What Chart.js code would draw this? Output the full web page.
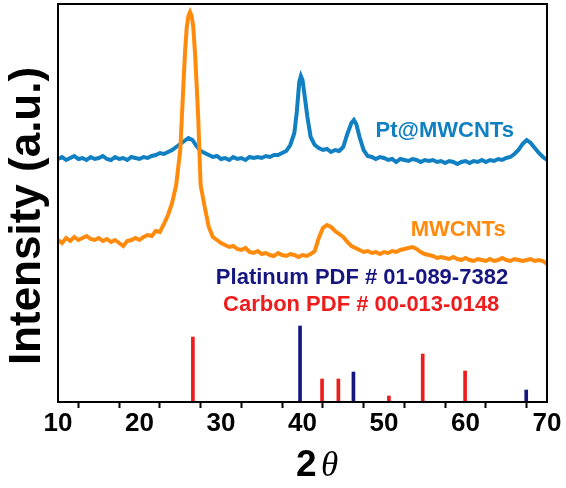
<!DOCTYPE html>
<html>
<head>
<meta charset="utf-8">
<script src="https://cdn.jsdelivr.net/npm/chart.js@4.4.1/dist/chart.umd.min.js"></script>
<style>
  html, body { margin: 0; padding: 0; background: #fff; }
  #wrap { width: 566px; height: 488px; }
</style>
</head>
<body>
<div id="wrap"><canvas id="xrdChart" width="566" height="488"></canvas></div>
<script>
// 2theta positions and intensities (a.u.)
const ptX = [10,10.5,11,11.5,12,12.5,13,13.5,14,14.5,15,15.5,16,16.5,17,17.5,18,18.5,19,19.5,20,20.5,21,21.5,22,22.5,23,23.5,24,24.5,25,25.5,26,26.5,27,27.5,28,28.5,29,29.5,30,30.5,31,31.5,32,32.5,33,33.5,34,34.5,35,35.5,36,36.5,37,37.5,38,38.5,39,39.3,39.6,39.8,40,40.3,40.6,41,41.5,42,42.5,43,43.5,44,44.5,45,45.5,46,46.3,46.6,47,47.5,48,48.5,49,49.5,50,50.5,51,51.5,52,52.5,53,53.5,54,54.5,55,55.5,56,56.5,57,57.5,58,58.5,59,59.5,60,60.5,61,61.5,62,62.5,63,63.5,64,64.5,65,65.5,66,66.5,67,67.5,68,68.5,69,69.5,70];
const ptY = [243,245,242,244,246,243,244,242,245,243,244,246,243,242,245,243,244,242,245,244,243,245,244,246,247,249,248,250,252,255,258,261,264,262,256,251,249,247,245,246,243,244,242,245,243,244,242,245,244,245,244,246,245,247,247,249,251,257,269,290,320,326,322,304,285,265,257,254,252,253,250,252,251,255,268,279,282,278,265,252,246,245,243,245,244,242,243,240,243,242,241,243,242,240,242,241,242,240,241,239,241,240,238,240,241,239,241,240,242,240,242,241,243,242,244,245,248,252,258,262,259,254,249,245,242];

const cntX = [10,10.5,11,11.5,12,12.5,13,13.5,14,14.5,15,15.5,16,16.5,17,17.5,18,18.5,19,19.5,20,20.5,21,21.5,22,22.5,23,23.5,24,24.5,25,25.2,25.4,25.6,25.8,26,26.2,26.4,26.6,26.8,27,27.2,27.5,28,28.5,29,29.5,30,30.5,31,31.5,32,32.5,33,33.5,34,34.5,35,35.5,36,36.5,37,37.5,38,38.5,39,39.5,40,40.5,41,41.5,42,42.5,43,43.5,44,44.5,45,45.5,46,46.5,47,47.5,48,48.5,49,49.5,50,50.5,51,51.5,52,52.5,53,53.5,54,54.5,55,55.5,56,56.5,57,57.5,58,58.5,59,59.5,60,60.5,61,61.5,62,62.5,63,63.5,64,64.5,65,65.5,66,66.5,67,67.5,68,68.5,69,69.5,70];
const cntY = [162,159,164,161,165,162,164,166,163,162,164,161,163,160,162,159,156,161,162,164,162,165,167,166,171,170,178,187,199,217,252,285,319,352,375,386,390,386,375,350,319,285,217,195,175,165,162,159,157,155,156,153,152,154,150,149,151,148,149,147,146,149,147,146,148,147,145,147,146,148,151,164,174,177,175,171,168,165,160,156,154,152,150,151,149,150,148,150,149,151,150,152,153,154,155,153,150,148,147,146,144,145,144,143,145,143,142,144,142,141,143,142,141,143,141,142,144,142,141,143,142,141,142,143,141,142,141,138];

// reference stick patterns
const carbonX = [26.55, 42.4, 44.4, 50.6, 54.75, 59.95];
const carbonY = [65, 23, 23, 6, 48, 31];
const platinumX = [39.7, 46.25, 67.45];
const platinumY = [76, 30, 12];

const xTicks = [10, 20, 30, 40, 50, 60, 70];

const FONT = '"Liberation Sans", Arial, sans-serif';
const BLUE = '#1180c3';
const ORANGE = '#ff8a0c';
const NAVY = '#161680';
const RED = '#ee1c1c';

const toPts = (xs, ys) => xs.map((x, i) => ({ x: x, y: ys[i] }));

const labelsPlugin = {
    id: 'xrdLabels',
    afterDraw(chart) {
        const c = chart.ctx;
        const area = chart.chartArea;
        const xs = chart.scales.x;
        const ys = chart.scales.y;

        // frame
        c.save();
        c.strokeStyle = '#000';
        c.lineWidth = 2;
        c.strokeRect(area.left, area.top, area.right - area.left, area.bottom - area.top);

        c.textAlign = 'center';
        c.textBaseline = 'middle';
        c.font = 'bold 22px ' + FONT;

        c.fillStyle = BLUE;
        c.fillText('Pt@MWCNTs', xs.getPixelForValue(57.45), ys.getPixelForValue(271));
        c.fillStyle = ORANGE;
        c.fillText('MWCNTs', xs.getPixelForValue(59.1), ys.getPixelForValue(172));
        c.fillStyle = NAVY;
        c.fillText('Platinum PDF # 01-089-7382', xs.getPixelForValue(47.3), ys.getPixelForValue(124));
        c.fillStyle = RED;
        c.fillText('Carbon PDF # 00-013-0148', xs.getPixelForValue(47.2), ys.getPixelForValue(97));

        // y title
        c.save();
        c.translate(28, 216);
        c.rotate(-Math.PI / 2);
        c.fillStyle = '#000';
        c.font = 'bold 44px ' + FONT;
        c.fillText('Intensity (a.u.)', 0, 0);
        c.restore();

        // x title: bold 2 + italic theta
        c.fillStyle = '#000';
        c.textAlign = 'left';
        c.textBaseline = 'alphabetic';
        c.font = 'bold 37px ' + FONT;
        c.fillText('2', 296, 476);
        c.font = 'italic 35px "Liberation Serif", "DejaVu Serif", serif';
        c.fillText('\u03B8', 321, 476);
        c.restore();
    }
};

const ctx = document.getElementById('xrdChart').getContext('2d');

new Chart(ctx, {
    type: 'line',
    data: {
        datasets: [
            {
                label: 'MWCNTs',
                data: toPts(cntX, cntY),
                borderColor: ORANGE,
                borderWidth: 4,
                pointRadius: 0,
                tension: 0,
                order: 1
            },
            {
                label: 'Pt@MWCNTs',
                data: toPts(ptX, ptY),
                borderColor: BLUE,
                borderWidth: 4,
                pointRadius: 0,
                tension: 0,
                order: 2
            },
            {
                type: 'bar',
                label: 'Carbon PDF # 00-013-0148',
                data: toPts(carbonX, carbonY),
                backgroundColor: RED,
                barThickness: 3,
                grouped: false,
                order: 3
            },
            {
                type: 'bar',
                label: 'Platinum PDF # 01-089-7382',
                data: toPts(platinumX, platinumY),
                backgroundColor: NAVY,
                barThickness: 3,
                grouped: false,
                order: 3
            }
        ]
    },
    options: {
        responsive: false,
        animation: false,
        layout: { padding: { top: 4, right: 19, left: 0, bottom: 0 } },
        plugins: {
            legend: { display: false },
            tooltip: { enabled: false }
        },
        scales: {
            x: {
                type: 'linear',
                min: 10,
                max: 70,
                offset: false,
                afterFit: (s) => { s.height = 86; },
                afterBuildTicks: (s) => {
                    const t = [];
                    for (let v = 10; v <= 70; v += 5) t.push({ value: v });
                    s.ticks = t;
                },
                ticks: {
                    autoSkip: false,
                    maxRotation: 0,
                    padding: 0,
                    color: '#000',
                    font: { family: FONT, size: 26, weight: 'bold' },
                    callback: (v) => xTicks.includes(v) ? String(v) : ''
                },
                grid: {
                    drawOnChartArea: false,
                    tickLength: 6,
                    tickWidth: 2,
                    tickColor: '#000'
                },
                border: { color: '#000', width: 2 }
            },
            y: {
                min: 0,
                max: 398,
                afterFit: (s) => { s.width = 58; },
                ticks: { display: false },
                grid: { display: false },
                border: { color: '#000', width: 2 }
            }
        }
    },
    plugins: [labelsPlugin]
});
</script>
</body>
</html>
